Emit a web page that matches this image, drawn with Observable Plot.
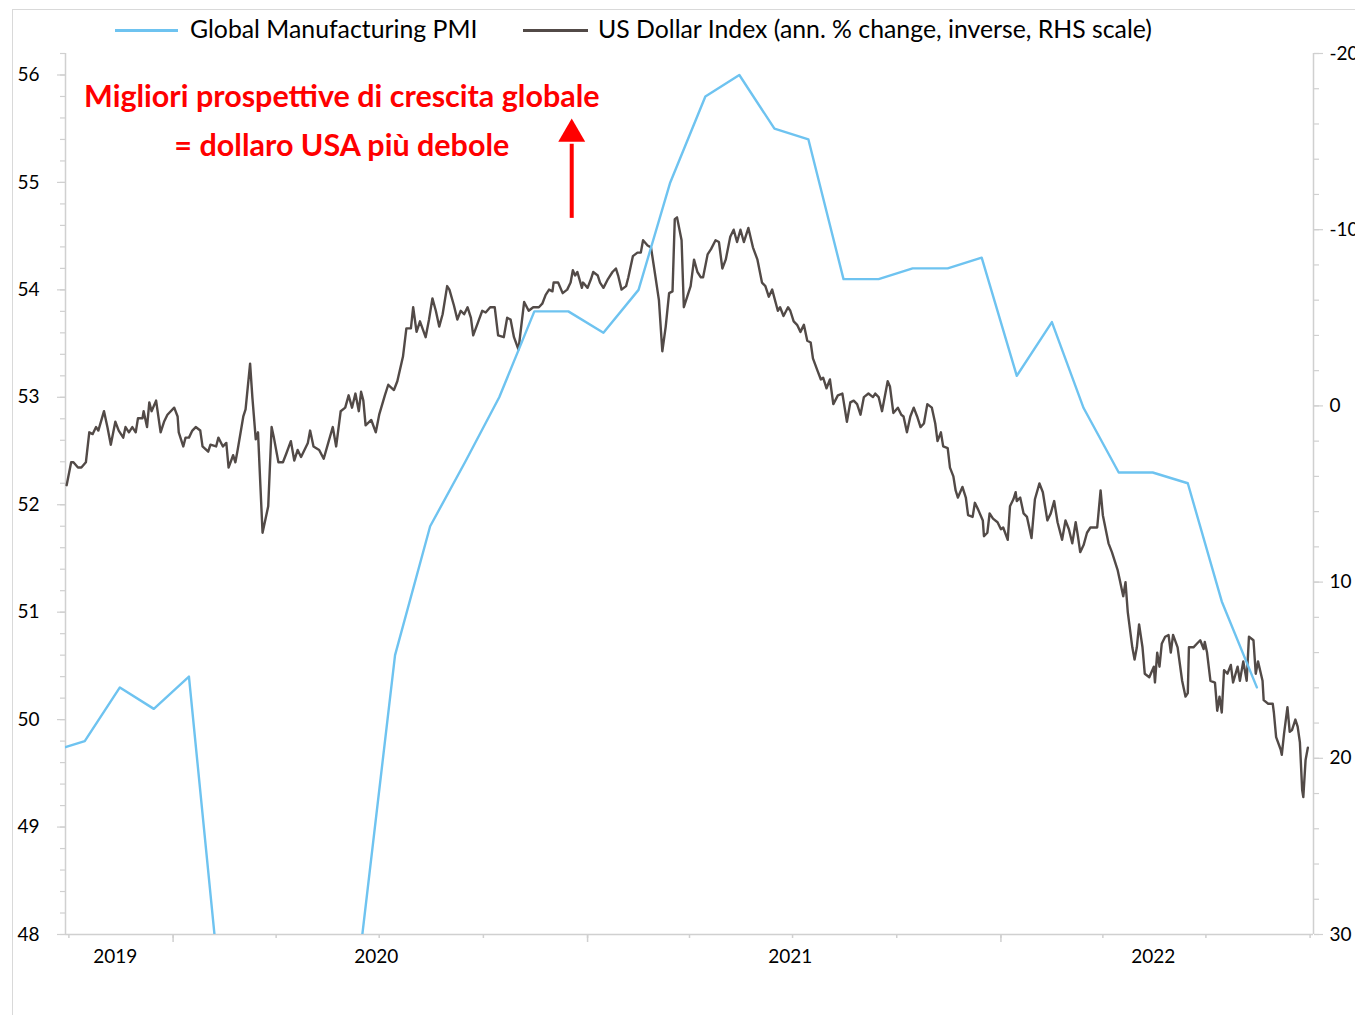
<!DOCTYPE html>
<html>
<head>
<meta charset="utf-8">
<script src="https://cdn.jsdelivr.net/npm/d3@7"></script>
<script src="https://cdn.jsdelivr.net/npm/@observablehq/plot@0.6"></script>
<style>
  body { margin: 0; background: #fff; font-family: Lato, "DejaVu Sans", sans-serif; }
  #wrap { position: relative; width: 1355px; height: 1015px; overflow: hidden; background: #fff; }
  #border { position: absolute; left: 12px; top: 9px; width: 1400px; height: 1100px; border: 1px solid #d9d9d9; box-sizing: border-box; }
  #chart { position: absolute; left: 0; top: 0; }
  .legline { position: absolute; height: 3px; }
  .legtext { position: absolute; font-size: 24.8px; line-height: 26px; color: #000; white-space: nowrap; }
</style>
</head>
<body>
<div id="wrap">
  <div id="border"></div>
  <div id="chart"></div>
  <div class="legline" style="left:115px;top:29px;width:63px;background:#6ec3f0"></div>
  <div class="legtext" style="left:190px;top:16px">Global Manufacturing PMI</div>
  <div class="legline" style="left:523px;top:29px;width:65px;background:#524a47"></div>
  <div class="legtext" style="left:598px;top:16px">US Dollar Index (ann. % change, inverse, RHS scale)</div>
</div>
<script>
// ---------------- DATA ----------------
// Global Manufacturing PMI (monthly)
const pmiMonths = ["2019-09","2019-10","2019-11","2019-12","2020-01","2020-02","2020-03","2020-04","2020-05","2020-06",
  "2020-07","2020-08","2020-09","2020-10","2020-11","2020-12","2021-01","2021-02","2021-03","2021-04","2021-05","2021-06",
  "2021-07","2021-08","2021-09","2021-10","2021-11","2021-12","2022-01","2022-02","2022-03","2022-04","2022-05","2022-06",
  "2022-07","2022-08"];
const pmiValues = [49.7,49.8,50.3,50.1,50.4,47.1,47.6,39.8,42.4,47.9,
  50.6,51.8,52.4,53.0,53.8,53.8,53.6,54.0,55.0,55.8,56.0,55.5,
  55.4,54.1,54.1,54.2,54.2,54.3,53.2,53.7,52.9,52.3,52.3,52.2,
  51.1,50.3];

// US Dollar Index, annual % change (plotted inverted on RHS): [days since 2019-10-01, value]
const usdStart = "2019-10-01";
const usdSeries = [
[-2,4.5],[2,3.2],[4,3.2],[8,3.5],[11,3.5],[15,3.2],[18,1.5],[21,1.6],[24,1.2],[26,1.4],
[31,0.3],[34,1.2],[37,2.2],[41,0.9],[44,1.4],[48,1.8],[50,1.2],[53,1.5],[56,1.2],[59,1.5],
[61,0.7],[65,0.7],[66,0.3],[69,1.2],[71,-0.2],[73,0.3],[77,-0.3],[81,1.5],[84,0.9],[87,0.5],
[93,0.1],[96,0.6],[97,1.5],[101,2.3],[103,1.8],[106,1.8],[109,1.4],[112,1.2],[116,1.4],[118,2.3],
[123,2.6],[125,2.2],[130,2.3],[132,1.8],[136,2.3],[139,2.1],[141,3.5],[145,2.8],[147,3.2],[149,2.5],
[154,0.6],[156,0.2],[160,-2.4],[162,-0.5],[165,1.9],[167,1.5],[169,4.4],[171,7.2],[176,5.7],[179,1.2],
[181,1.8],[185,3.2],[189,3.2],[192,2.7],[196,2.0],[199,3.1],[202,2.5],[205,2.9],[211,2.1],[213,1.4],
[216,2.3],[221,2.5],[225,3.0],[229,2.1],[233,1.2],[236,2.3],[240,0.3],[244,0.1],[247,-0.6],[250,0.1],
[253,-0.7],[256,0.3],[258,-0.8],[260,-0.3],[262,1.1],[267,0.8],[271,1.5],[274,0.5],[279,-0.6],[282,-1.2],
[287,-0.9],[290,-1.4],[295,-2.8],[298,-4.4],[302,-4.4],[304,-5.6],[307,-4.2],[310,-4.8],[315,-3.9],[318,-4.9],
[321,-6.1],[324,-5.4],[327,-4.5],[330,-5.2],[334,-6.8],[336,-6.6],[340,-5.7],[343,-4.9],[346,-5.4],[349,-5.2],
[352,-5.6],[355,-5.0],[357,-4.0],[361,-4.7],[365,-5.4],[368,-5.3],[372,-5.6],[376,-5.6],[379,-4.0],[384,-3.9],
[387,-5.0],[390,-4.9],[393,-3.9],[397,-3.2],[402,-5.9],[406,-5.4],[410,-5.6],[415,-5.6],[418,-5.8],[421,-6.3],
[424,-6.6],[427,-6.5],[428,-7.0],[432,-7.0],[436,-6.4],[440,-6.6],[443,-7.0],[445,-7.7],[447,-7.4],[449,-7.6],
[453,-6.7],[454,-7.0],[458,-6.7],[461,-7.2],[463,-7.6],[467,-7.4],[469,-7.0],[472,-6.7],[476,-7.2],[480,-7.6],
[483,-7.8],[485,-7.4],[488,-6.6],[492,-6.8],[494,-7.3],[498,-8.5],[502,-8.7],[505,-8.7],[507,-9.4],[511,-9.1],
[514,-9.0],[518,-7.3],[521,-6.0],[524,-3.1],[527,-4.5],[530,-6.4],[533,-6.5],[535,-10.6],[537,-10.7],[541,-9.4],
[543,-5.6],[546,-6.2],[549,-6.8],[552,-8.3],[555,-7.6],[558,-7.3],[560,-7.3],[564,-8.6],[567,-8.9],[571,-9.4],
[574,-9.3],[577,-7.8],[580,-8.3],[584,-9.6],[587,-10.0],[590,-9.3],[593,-10.0],[596,-9.3],[600,-10.1],[604,-9.0],
[608,-8.3],[612,-7.0],[615,-6.8],[618,-6.2],[621,-6.6],[626,-5.4],[628,-5.6],[631,-5.1],[635,-5.6],[637,-5.4],
[640,-4.8],[643,-4.6],[646,-4.2],[649,-4.6],[652,-3.7],[655,-3.6],[657,-2.7],[661,-2.0],[664,-1.5],[666,-1.6],
[669,-1.0],[672,-1.5],[675,-0.1],[679,-0.6],[683,-0.7],[687,0.9],[690,-0.2],[693,-0.3],[696,-0.1],[699,0.5],
[702,-0.5],[706,-0.7],[710,-0.5],[712,-0.7],[715,-0.5],[718,0.3],[723,-1.4],[725,-1.1],[728,0.4],[732,0.1],
[735,0.5],[737,0.6],[740,1.5],[743,0.6],[746,0.1],[749,0.6],[752,1.2],[755,1.0],[758,-0.1],[762,0.1],
[765,1.0],[767,2.0],[770,1.5],[772,2.3],[776,2.4],[778,3.5],[781,4.0],[783,4.8],[785,5.2],[789,4.6],
[792,5.2],[794,6.2],[798,6.3],[800,5.5],[803,5.9],[807,6.5],[808,7.4],[811,7.2],[813,6.1],[816,6.4],
[820,6.6],[823,7.0],[825,6.9],[829,7.6],[831,5.7],[834,5.3],[836,4.9],[837,5.4],[840,5.2],[843,6.1],
[846,6.3],[850,7.5],[853,5.3],[857,4.4],[860,4.9],[864,6.5],[867,6.1],[870,5.4],[873,6.6],[877,7.6],
[880,6.5],[883,7.0],[886,7.8],[889,6.6],[891,7.4],[893,8.3],[896,7.9],[899,7.2],[902,6.9],[905,6.9],
[908,6.9],[911,4.8],[913,6.2],[918,7.8],[921,8.3],[926,9.3],[928,9.9],[931,10.8],[933,10.0],[935,11.7],
[939,13.7],[941,14.4],[943,13.7],[945,12.4],[948,13.7],[950,15.2],[954,15.4],[958,14.8],[959,15.7],[961,14.0],
[963,14.8],[965,13.5],[968,13.1],[971,13.0],[973,14.0],[975,13.0],[979,13.7],[983,15.6],[986,16.5],[988,16.3],
[989,13.7],[993,13.7],[996,13.5],[999,13.3],[1002,13.8],[1003,13.4],[1005,14.0],[1008,15.6],[1012,15.7],[1014,17.3],
[1016,16.5],[1018,17.4],[1020,15.0],[1023,15.2],[1026,14.7],[1028,15.7],[1032,14.8],[1034,15.6],[1037,14.5],[1040,15.6],
[1042,13.1],[1046,13.3],[1048,15.2],[1050,14.5],[1054,15.6],[1055,16.7],[1059,16.9],[1063,16.9],[1064,17.4],[1066,18.8],
[1070,19.5],[1071,19.8],[1073,18.6],[1076,17.1],[1078,18.5],[1080,18.4],[1083,17.8],[1085,18.2],[1087,19.1],[1089,21.8],
[1090,22.2],[1092,20.1],[1094,19.4]
];

// Axes
const lhsTicks = [48, 49, 50, 51, 52, 53, 54, 55, 56];
const rhsTicks = [-20, -10, 0, 10, 20, 30];
const years = [2019, 2020, 2021, 2022];
const xStart = "2019-09-28", xEnd = "2022-10-04";
const lhsDomain = [48, 56.2];
const rhsDomain = [30, -20]; // bottom -> top (inverted)

// Annotation
const annotationLines = [
  {date: "2020-05-29", value: 55.79, text: "Migliori prospettive di crescita globale"},
  {date: "2020-05-29", value: 55.34, text: "= dollaro USA più debole"}
];
const arrowSpec = {date: "2020-12-18", from: 54.67, to: 55.36, tip: 55.45};

// ---------------- BUILD ----------------
const parse = d3.utcParse("%Y-%m-%d");
const x0 = parse(xStart), x1 = parse(xEnd);
const pmi = pmiMonths.map((m, i) => {
  const [yy, mm] = m.split("-").map(Number);
  return {date: new Date(Date.UTC(yy, mm - 1, 15)), value: pmiValues[i]};
});
const s0 = parse(usdStart);
const usd = usdSeries.map(([d, v]) => ({date: d3.utcDay.offset(s0, d), value: v}));

const toLeft = v => lhsDomain[0] + (rhsDomain[0] - v) / (rhsDomain[0] - rhsDomain[1]) * (lhsDomain[1] - lhsDomain[0]);
const toRight = y => rhsDomain[0] - (y - lhsDomain[0]) / (lhsDomain[1] - lhsDomain[0]) * (rhsDomain[0] - rhsDomain[1]);

const lhsMinor = d3.range(0, 42).map(i => 48 + i * 0.2).filter(v => v <= 56.2);
const rhsMinor = d3.range(-20, 31, 2).map(toLeft);
const quarterTicks = d3.utcMonth.every(3).range(x0, x1);
const yearTicks = years.slice(1).map(y => new Date(Date.UTC(y, 0, 1)));
const yearMids = years.map(y => {
  const a = Math.max(+x0, Date.UTC(y, 0, 1));
  const b = Math.min(+x1, Date.UTC(y + 1, 0, 1));
  return new Date((a + b) / 2);
});

const axisGray = "#d0d0d0";
const chart = Plot.plot({
  width: 1355,
  height: 1015,
  marginTop: 53,
  marginBottom: 81,
  marginLeft: 65,
  marginRight: 42,
  style: {fontFamily: "Lato, sans-serif", fontSize: "19px", color: "#000", background: "transparent", overflow: "visible"},
  x: {type: "utc", domain: [x0, x1], label: null},
  y: {domain: lhsDomain, label: null},
  marks: [
    // axis lines
    Plot.ruleX([x0], {stroke: axisGray, strokeWidth: 1.5}),
    Plot.ruleX([x1], {stroke: axisGray, strokeWidth: 1.5}),
    Plot.ruleY([lhsDomain[0]], {stroke: axisGray, strokeWidth: 1.5}),
    // x ticks
    Plot.axisX(quarterTicks, {tickSize: 4, stroke: axisGray, strokeWidth: 1.5, tickFormat: () => ""}),
    Plot.axisX(yearTicks, {tickSize: 8, stroke: axisGray, strokeWidth: 1.5, tickFormat: () => ""}),
    Plot.axisX(yearMids, {tickSize: 0, tickPadding: 15, tickFormat: d3.utcFormat("%Y"), fill: "#000", dx: -4}),
    // left axis
    Plot.axisY(lhsMinor, {anchor: "left", tickSize: 5, stroke: axisGray, strokeWidth: 1.2, tickFormat: () => ""}),
    Plot.axisY(lhsTicks, {anchor: "left", tickSize: 8, tickPadding: 18, stroke: axisGray, strokeWidth: 1.2, fill: "#000", tickFormat: d => String(d)}),
    // right axis
    Plot.axisY(rhsMinor, {anchor: "right", tickSize: 5, stroke: axisGray, strokeWidth: 1.2, tickFormat: () => ""}),
    Plot.axisY(rhsTicks.map(toLeft), {anchor: "right", tickSize: 9, tickPadding: 7, stroke: axisGray, strokeWidth: 1.2, fill: "#000",
      tickFormat: d => String(Math.round(toRight(d)))}),
    // series
    Plot.line(usd, {x: "date", y: d => toLeft(d.value), stroke: "#524a47", strokeWidth: 2.4, clip: true}),
    Plot.line(pmi, {x: "date", y: "value", stroke: "#6ec3f0", strokeWidth: 2.4, clip: true}),
    // annotation
    Plot.text(annotationLines, {x: d => parse(d.date), y: "value", text: "text", fill: "#ff0000", fontWeight: "bold", fontSize: 30.5, textAnchor: "middle"}),
    Plot.link([arrowSpec], {x1: d => parse(d.date), x2: d => parse(d.date), y1: "from", y2: "to", stroke: "#ff0000", strokeWidth: 4}),
    Plot.dot([arrowSpec], {x: d => parse(d.date), y: "tip", symbol: "triangle", r: 10, fill: "#ff0000", stroke: null})
  ]
});
document.getElementById("chart").appendChild(chart);
</script>
</body>
</html>
